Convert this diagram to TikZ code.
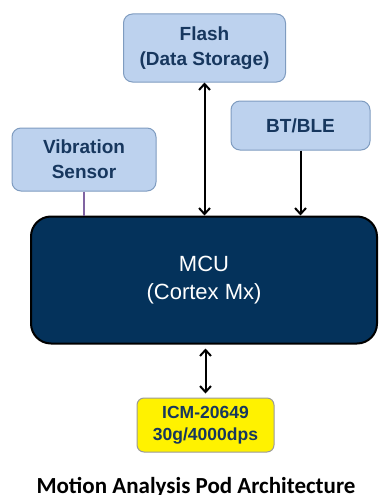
\documentclass[tikz,border=0pt]{standalone}
\usepackage{fontspec}
\setmainfont{Liberation Sans}
\newfontfamily\captionfont{Carlito}
\usetikzlibrary{arrows.meta}
\definecolor{boxblue}{HTML}{BDD2EE}
\definecolor{boxedge}{HTML}{7F9CC0}
\definecolor{navytext}{HTML}{17375E}
\definecolor{mcublue}{HTML}{04325B}
\definecolor{sensorline}{HTML}{8064A2}
\definecolor{icmedge}{HTML}{9A9A9A}

\begin{document}
\begin{tikzpicture}[x=1pt,y=-1pt,
  >={Straight Barb[length=6pt,width=11pt]},
  block/.style={draw=boxedge, line width=1pt, fill=boxblue, rounded corners=9pt, text=navytext,
    align=center, inner sep=0pt, font=\fontsize{19}{25}\selectfont\bfseries},
  link/.style={line width=2pt, black}]
			\useasboundingbox (0,0) rectangle (378,495);
			\node at (204.5,48) (flash) [block, minimum width=162pt, minimum height=68pt] {Flash\\(Data Storage)};
			\node at (300.5,125.5) (ble) [block, minimum width=139pt, minimum height=49pt] {BT/BLE};
			\node at (84,159.5) (vib) [block, minimum width=144pt, minimum height=63pt] {Vibration\\Sensor};
			\node at (204,280) (mcu) [draw=black, line width=2pt, fill=mcublue, rounded corners=20pt, text=white, align=center,
				minimum width=346pt, minimum height=127pt, font=\fontsize{22}{28}\selectfont] {MCU\\(Cortex Mx)};
			\node at (205.5,425) (icm) [block, draw=icmedge, fill=yellow, rounded corners=7pt, minimum width=137pt, minimum height=54pt,
				font=\fontsize{17.5}{22}\selectfont\bfseries] {ICM-20649\\30g/4000dps};
			\node at (196,493) (caption) [anchor=base, font=\fontsize{23}{27}\captionfont\bfseries] {Motion Analysis Pod Architecture};
			\draw [link,<->] (flash.south) -- (flash.south |- mcu.north);
			\draw [link,->] (ble.south) -- (ble.south |- mcu.north);
			\draw [link,<->,shorten <=4pt,shorten >=4pt] (icm.north) -- (icm.north |- mcu.south);
			\draw [sensorline, line width=1.5pt] (vib.south) -- (vib.south |- mcu.north); %sensor tie has no tip
\end{tikzpicture}
\end{document}
